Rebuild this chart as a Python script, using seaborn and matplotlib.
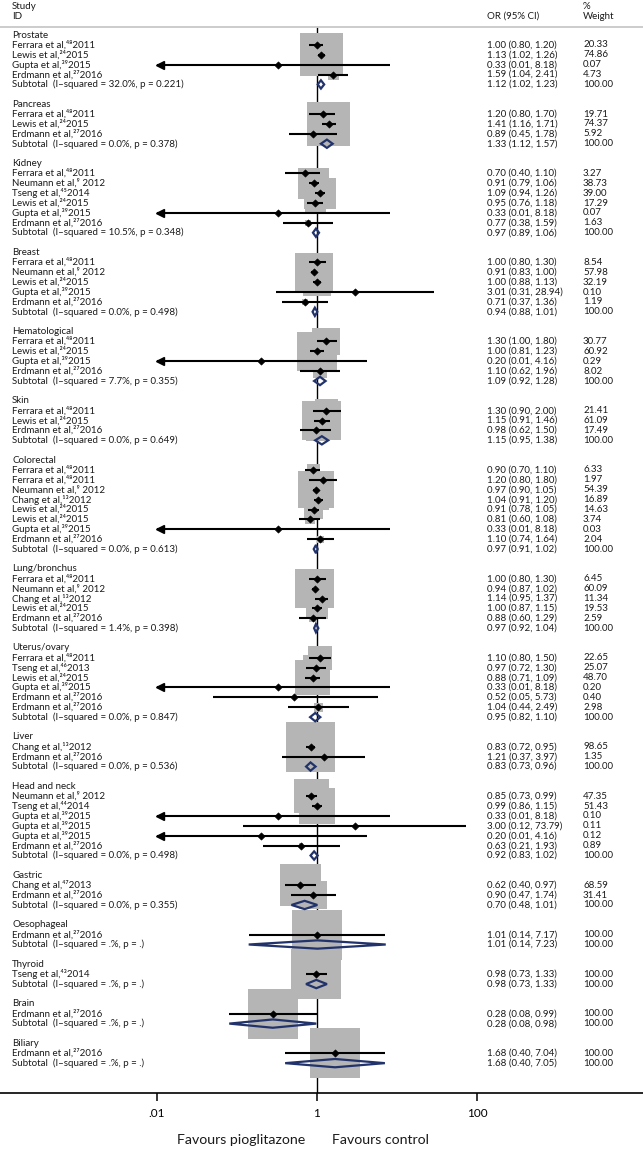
import matplotlib
matplotlib.use("Agg")
import matplotlib.pyplot as plt
import matplotlib.transforms as mtransforms
import numpy as np
import pandas as pd
import seaborn as sns

# --- data -------------------------------------------------------------
group_names = ['Prostate', 'Pancreas', 'Kidney', 'Breast', 'Hematological', 'Skin',
               'Colorectal', 'Lung/bronchus', 'Uterus/ovary', 'Liver', 'Head and neck',
               'Gastric', 'Oesophageal', 'Thyroid', 'Brain', 'Biliary']
group_sizes = [4, 3, 6, 5, 4, 3, 8, 5, 6, 2, 6, 2, 1, 1, 1, 1]
group_het = ['32.0%, p = 0.221', '0.0%, p = 0.378', '10.5%, p = 0.348', '0.0%, p = 0.498',
             '7.7%, p = 0.355', '0.0%, p = 0.649', '0.0%, p = 0.613', '1.4%, p = 0.398',
             '0.0%, p = 0.847', '0.0%, p = 0.536', '0.0%, p = 0.498', '0.0%, p = 0.355',
             '.%, p = .', '.%, p = .', '.%, p = .', '.%, p = .']
sub_or = [1.12, 1.33, 0.97, 0.94, 1.09, 1.15, 0.97, 0.97, 0.95, 0.83, 0.92, 0.70, 1.01, 0.98, 0.28, 1.68]
sub_lo = [1.02, 1.12, 0.89, 0.88, 0.92, 0.95, 0.91, 0.92, 0.82, 0.73, 0.83, 0.48, 0.14, 0.73, 0.08, 0.40]
sub_hi = [1.23, 1.57, 1.06, 1.01, 1.28, 1.38, 1.02, 1.04, 1.10, 0.96, 1.02, 1.01, 7.23, 1.33, 0.98, 7.05]

study_label = [
    'Ferrara et al,⁴⁸2011', 'Lewis et al,²⁴2015', 'Gupta et al,³⁹2015', 'Erdmann et al,²⁷2016',
    'Ferrara et al,⁴⁸2011', 'Lewis et al,²⁴2015', 'Erdmann et al,²⁷2016',
    'Ferrara et al,⁴⁸2011', 'Neumann et al,⁹ 2012', 'Tseng et al,⁴⁵2014', 'Lewis et al,²⁴2015',
    'Gupta et al,³⁹2015', 'Erdmann et al,²⁷2016',
    'Ferrara et al,⁴⁸2011', 'Neumann et al,⁹ 2012', 'Lewis et al,²⁴2015', 'Gupta et al,³⁹2015',
    'Erdmann et al,²⁷2016',
    'Ferrara et al,⁴⁸2011', 'Lewis et al,²⁴2015', 'Gupta et al,³⁹2015', 'Erdmann et al,²⁷2016',
    'Ferrara et al,⁴⁸2011', 'Lewis et al,²⁴2015', 'Erdmann et al,²⁷2016',
    'Ferrara et al,⁴⁸2011', 'Ferrara et al,⁴⁸2011', 'Neumann et al,⁹ 2012', 'Chang et al,¹³2012',
    'Lewis et al,²⁴2015', 'Lewis et al,²⁴2015', 'Gupta et al,³⁹2015', 'Erdmann et al,²⁷2016',
    'Ferrara et al,⁴⁸2011', 'Neumann et al,⁹ 2012', 'Chang et al,¹³2012', 'Lewis et al,²⁴2015',
    'Erdmann et al,²⁷2016',
    'Ferrara et al,⁴⁸2011', 'Tseng et al,⁴⁶2013', 'Lewis et al,²⁴2015', 'Gupta et al,³⁹2015',
    'Erdmann et al,²⁷2016', 'Erdmann et al,²⁷2016',
    'Chang et al,¹³2012', 'Erdmann et al,²⁷2016',
    'Neumann et al,⁹ 2012', 'Tseng et al,⁴⁴2014', 'Gupta et al,³⁹2015', 'Gupta et al,³⁹2015',
    'Gupta et al,³⁹2015', 'Erdmann et al,²⁷2016',
    'Chang et al,⁴⁷2013', 'Erdmann et al,²⁷2016',
    'Erdmann et al,²⁷2016',
    'Tseng et al,⁴³2014',
    'Erdmann et al,²⁷2016',
    'Erdmann et al,²⁷2016',
]
study_or = [1.00, 1.13, 0.33, 1.59,
            1.20, 1.41, 0.89,
            0.70, 0.91, 1.09, 0.95, 0.33, 0.77,
            1.00, 0.91, 1.00, 3.01, 0.71,
            1.30, 1.00, 0.20, 1.10,
            1.30, 1.15, 0.98,
            0.90, 1.20, 0.97, 1.04, 0.91, 0.81, 0.33, 1.10,
            1.00, 0.94, 1.14, 1.00, 0.88,
            1.10, 0.97, 0.88, 0.33, 0.52, 1.04,
            0.83, 1.21,
            0.85, 0.99, 0.33, 3.00, 0.20, 0.63,
            0.62, 0.90,
            1.01, 0.98, 0.28, 1.68]
study_lo = [0.80, 1.02, 0.01, 1.04,
            0.80, 1.16, 0.45,
            0.40, 0.79, 0.94, 0.76, 0.01, 0.38,
            0.80, 0.83, 0.88, 0.31, 0.37,
            1.00, 0.81, 0.01, 0.62,
            0.90, 0.91, 0.62,
            0.70, 0.80, 0.90, 0.91, 0.78, 0.60, 0.01, 0.74,
            0.80, 0.87, 0.95, 0.87, 0.60,
            0.80, 0.72, 0.71, 0.01, 0.05, 0.44,
            0.72, 0.37,
            0.73, 0.86, 0.01, 0.12, 0.01, 0.21,
            0.40, 0.47,
            0.14, 0.73, 0.08, 0.40]
study_hi = [1.20, 1.26, 8.18, 2.41,
            1.70, 1.71, 1.78,
            1.10, 1.06, 1.26, 1.18, 8.18, 1.59,
            1.30, 1.00, 1.13, 28.94, 1.36,
            1.80, 1.23, 4.16, 1.96,
            2.00, 1.46, 1.50,
            1.10, 1.80, 1.05, 1.20, 1.05, 1.08, 8.18, 1.64,
            1.30, 1.02, 1.37, 1.15, 1.29,
            1.50, 1.30, 1.09, 8.18, 5.73, 2.49,
            0.95, 3.97,
            0.99, 1.15, 8.18, 73.79, 4.16, 1.93,
            0.97, 1.74,
            7.17, 1.33, 0.99, 7.04]
study_wt = [20.33, 74.86, 0.07, 4.73,
            19.71, 74.37, 5.92,
            3.27, 38.73, 39.00, 17.29, 0.07, 1.63,
            8.54, 57.98, 32.19, 0.10, 1.19,
            30.77, 60.92, 0.29, 8.02,
            21.41, 61.09, 17.49,
            6.33, 1.97, 54.39, 16.89, 14.63, 3.74, 0.03, 2.04,
            6.45, 60.09, 11.34, 19.53, 2.59,
            22.65, 25.07, 48.70, 0.20, 0.40, 2.98,
            98.65, 1.35,
            47.35, 51.43, 0.10, 0.11, 0.12, 0.89,
            68.59, 31.41,
            100.00, 100.00, 100.00, 100.00]

# --- row layout -------------------------------------------------------
rows = []
r = 0
sub_rows, head_rows = [], []
for g, n in enumerate(group_sizes):
    head_rows.append(r)
    r += 1
    for i in range(n):
        rows.append(r)
        r += 1
    sub_rows.append(r)
    r += 2

df = pd.DataFrame({'label': study_label, 'OR': study_or, 'lo': study_lo,
                   'hi': study_hi, 'wt': study_wt, 'row': rows})
sub = pd.DataFrame({'group': group_names, 'het': group_het, 'OR': sub_or,
                    'lo': sub_lo, 'hi': sub_hi, 'row': sub_rows, 'head': head_rows})

sns.set_style('white')
plt.rcParams['font.family'] = ['Lato', 'DejaVu Sans']

W, H = 643, 1150
fig = plt.figure(figsize=(W / 100, H / 100), dpi=100)
axis_px = 1093
row0_px, row_px = 35, 9.886
ax = fig.add_axes([0, (H - axis_px) / H, 1, axis_px / H])
ax.set_xscale('log')
ax.set_xlim(10 ** (-317 / 80), 10 ** ((W - 317) / 80))
ax.set_ylim((axis_px - row0_px) / row_px, -row0_px / row_px)

px_dec = 80.0
box_full = 50.0
# null line
ax.vlines(1, -0.81, ax.get_ylim()[0], color='black', lw=1.0, zorder=1)

# weight boxes (area ~ weight)
side = box_full * np.sqrt(df['wt'] / 100.0)
half_dec = side / px_dec / 2
ax.barh(df['row'], width=df['OR'] * 10 ** half_dec - df['OR'] * 10 ** (-half_dec),
        left=df['OR'] * 10 ** (-half_dec), height=side / row_px,
        color='#b5b5b5', edgecolor='none', zorder=2)

# CIs
ax.hlines(df['row'], df['lo'], df['hi'], color='black', lw=1.5, zorder=3)
arr = df[df['lo'] <= 0.01]
ax.plot(arr['lo'] * 1.08, arr['row'], ls='none', marker='<', ms=5.5,
        color='black', zorder=4)
sns.scatterplot(data=df, x='OR', y='row', marker='D', s=14, color='black',
                edgecolor='black', linewidth=0.4, ax=ax, zorder=5, legend=False)

# subtotal diamonds
dh = 0.42
for _, s in sub.iterrows():
    ax.fill([s['lo'], s['OR'], s['hi'], s['OR'], s['lo']],
            [s['row'], s['row'] - dh, s['row'], s['row'] + dh, s['row']],
            facecolor='none', edgecolor='#22336b', lw=1.6, zorder=6)

# text columns
tr = mtransforms.blended_transform_factory(ax.transAxes, ax.transData)
fs = 7.0
tcol = '#1a1a1a'
x_lab, x_or, x_wt = 12 / W, 487 / W, 583 / W
for _, s in df.iterrows():
    ax.text(x_lab, s['row'], s['label'], transform=tr, va='center', ha='left', fontsize=fs, color=tcol)
    ax.text(x_or, s['row'], '%.2f (%.2f, %.2f)' % (s['OR'], s['lo'], s['hi']),
            transform=tr, va='center', ha='left', fontsize=fs, color=tcol)
    ax.text(x_wt, s['row'], '%.2f' % s['wt'], transform=tr, va='center', ha='left',
            fontsize=fs, color=tcol)
for _, s in sub.iterrows():
    ax.text(x_lab, s['head'], s['group'], transform=tr, va='center', ha='left', fontsize=fs, color=tcol)
    ax.text(x_lab, s['row'], 'Subtotal  (I\u2013squared = ' + s['het'] + ')', transform=tr,
            va='center', ha='left', fontsize=fs, color=tcol)
    ax.text(x_or, s['row'], '%.2f (%.2f, %.2f)' % (s['OR'], s['lo'], s['hi']),
            transform=tr, va='center', ha='left', fontsize=fs, color=tcol)
    ax.text(x_wt, s['row'], '100.00', transform=tr, va='center', ha='left',
            fontsize=fs, color=tcol)

# header
ax.text(x_lab, -2.93, 'Study', transform=tr, va='center', fontsize=fs, color=tcol)
ax.text(x_lab, -1.92, 'ID', transform=tr, va='center', fontsize=fs, color=tcol)
ax.text(x_or, -1.92, 'OR (95% CI)', transform=tr, va='center', fontsize=fs, color=tcol)
ax.text(x_wt, -2.93, '%', transform=tr, va='center', fontsize=fs, color=tcol)
ax.text(x_wt, -1.92, 'Weight', transform=tr, va='center', fontsize=fs, color=tcol)
ax.axhline(-0.81, color='#c8c8c8', lw=1.3, zorder=1)

# axis
for sp in ['left', 'right', 'top']:
    ax.spines[sp].set_visible(False)
ax.spines['bottom'].set_color('black')
ax.spines['bottom'].set_linewidth(1.2)
ax.set_yticks([])
ax.set_xticks([0.01, 1, 100])
ax.set_xticklabels(['.01', '1', '100'])
ax.xaxis.set_minor_locator(matplotlib.ticker.NullLocator())
ax.tick_params(axis='x', direction='out', length=6, width=1.1, pad=5,
               labelsize=8.5, colors='black', bottom=True)
ax.set_xlabel('')
ax.set_ylabel('')

fig.text(305 / W, 1 - 1140 / H, 'Favours pioglitazone', ha='right', va='center',
         fontsize=10.2, color=tcol)
fig.text(332 / W, 1 - 1140 / H, 'Favours control', ha='left', va='center',
         fontsize=10.2, color=tcol)

fig.savefig('out.png', dpi=100)
